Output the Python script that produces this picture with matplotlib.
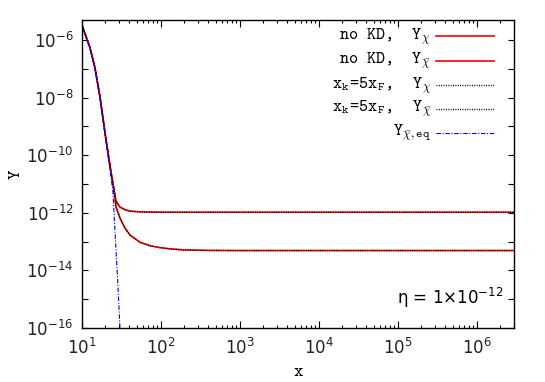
import matplotlib
matplotlib.use("Agg")
import matplotlib.pyplot as plt
from matplotlib.lines import Line2D
from matplotlib.ticker import FixedLocator, LogLocator, NullFormatter

# values (log-log)
x_chi = [10, 12.7, 14.7, 17.1, 19.9, 23.5, 25.6, 27.2, 30.5, 35.3, 40.8, 54.7,
         73.3, 131, 1e3, 1e4, 1e5, 1e6, 3e6]
y_chi = [3.5e-6, 5.5e-7, 1.1e-7, 1.0e-8, 5.0e-10, 2.5e-11, 6.5e-12, 2.5e-12,
         1.6e-12, 1.28e-12, 1.15e-12, 1.08e-12, 1.06e-12, 1.05e-12, 1.05e-12,
         1.05e-12, 1.05e-12, 1.05e-12, 1.05e-12]

x_chibar = [10, 12.7, 14.7, 17.1, 19.9, 23.5, 25.6, 27.2, 30.5, 35.3, 40.8, 54.7,
            73.3, 98, 131, 200, 400, 1e3, 1e4, 1e5, 1e6, 3e6]
y_chibar = [3.5e-6, 5.5e-7, 1.1e-7, 1.0e-8, 5.0e-10, 2.5e-11, 6.5e-12, 1.6e-12,
            6.6e-13, 2.95e-13, 1.7e-13, 9.5e-14, 7.2e-14, 6.2e-14, 5.6e-14,
            5.15e-14, 4.95e-14, 4.9e-14, 4.9e-14, 4.9e-14, 4.9e-14, 4.9e-14]

# x_k = 5 x_F run lies on top of the no-KD run
x_kd_chi, y_kd_chi = list(x_chi), list(y_chi)
x_kd_chibar, y_kd_chibar = list(x_chibar), list(y_chibar)

x_eq = [10, 12.7, 14.7, 17.1, 19.9, 23.5, 24.9, 26.6, 28.5, 30.5, 31.5]
y_eq = [3.5e-6, 5.5e-7, 1.1e-7, 1.0e-8, 5.0e-10, 1.8e-11, 5.0e-12, 1.5e-13,
        4.7e-15, 1.0e-16, 1.5e-17]

labels = [r'no KD,  Y$_{\chi}$',
          r'no KD,  Y$_{\bar{\chi}}$',
          r'x$_{\mathtt{k}}$=5x$_{\mathtt{F}}$,  Y$_{\chi}$',
          r'x$_{\mathtt{k}}$=5x$_{\mathtt{F}}$,  Y$_{\bar{\chi}}$',
          r'Y$_{\bar{\chi},\mathtt{eq}}$']

W, H = 545, 382
fig = plt.figure(figsize=(W / 100, H / 100), dpi=100)
ax = fig.add_axes([81.7 / W, 1 - 328 / H, 432.6 / W, 308 / H])

red = dict(color='#ff0000', lw=1.2)
dots = dict(color='black', lw=1.0, dashes=(0.7, 1.0))
blue = dict(color='#0000ff', lw=0.8, dashes=(4, 1.5, 1, 1.5))

ax.plot(x_chi, y_chi, **red)
ax.plot(x_chibar, y_chibar, **red)
ax.plot(x_kd_chi, y_kd_chi, **dots)
ax.plot(x_kd_chibar, y_kd_chibar, **dots)
ax.plot(x_eq, y_eq, **blue)

ax.set_xscale('log')
ax.set_yscale('log')
ax.set_xlim(10, 3e6)
ax.set_ylim(1e-16, 5e-6)

ax.xaxis.set_major_locator(FixedLocator([1e1, 1e2, 1e3, 1e4, 1e5, 1e6]))
ax.xaxis.set_minor_locator(LogLocator(base=10, subs=range(2, 10), numticks=20))
ax.xaxis.set_minor_formatter(NullFormatter())
ax.yaxis.set_major_locator(FixedLocator([1e-16, 1e-14, 1e-12, 1e-10, 1e-8, 1e-6]))
ax.yaxis.set_minor_locator(FixedLocator([1e-15, 1e-13, 1e-11, 1e-9, 1e-7]))
ax.yaxis.set_minor_formatter(NullFormatter())

ax.tick_params(which='both', direction='in', top=True, right=True,
               labelsize=12, labelcolor='#222222', width=0.8)
ax.tick_params(axis='x', which='major', length=5, pad=7)
ax.tick_params(axis='x', which='minor', length=2.5)
ax.tick_params(axis='y', which='both', length=4, pad=6)
for s in ax.spines.values():
    s.set_linewidth(1.0)

ax.set_xlabel('x', fontsize=13, family='cmtt10', labelpad=5)
ax.set_ylabel('Y', fontsize=13, family='cmtt10', labelpad=2)

# key, gnuplot style: text right-aligned, sample to the right
styles = [red, red, dots, dots, blue]
rows = [36, 60.5, 85, 108.5, 132.5]
for lab, st, y in zip(labels, styles, rows):
    fig.text(431 / W, 1 - (y + 4) / H, lab, ha='right', va='baseline',
             fontsize=12.5, family=['cmtt10', 'DejaVu Sans'], math_fontfamily='cm')
    fig.add_artist(Line2D([436 / W, 494 / W], [1 - y / H, 1 - y / H],
                          transform=fig.transFigure, **st))

fig.text(503 / W, 1 - 298 / H, 'η = 1×10$^{-12}$', ha='right',
         va='center', fontsize=12)

fig.savefig('out.png', dpi=100)
